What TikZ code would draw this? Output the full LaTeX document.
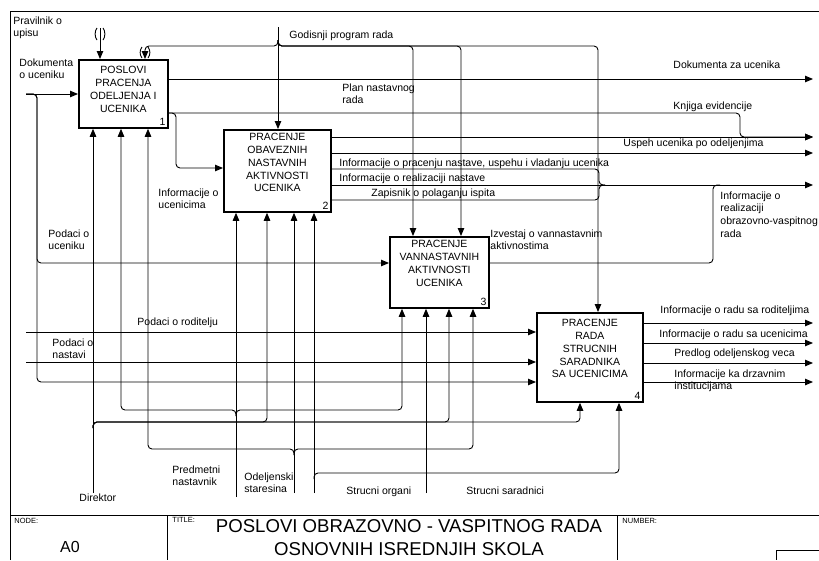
\documentclass[tikz,border=0pt]{standalone}
\usepackage{fontspec}
\setmainfont{Liberation Sans}
\usetikzlibrary{arrows.meta,positioning}
\newcommand{\lblfont}{\fontsize{10.5}{12.8}\selectfont}
\newcommand{\tinyfont}{\fontsize{7.5}{8.5}\selectfont}
\tikzset{
  box/.style={draw, line width=1.8pt, anchor=north west, inner sep=0pt},
  boxtext/.style={inner sep=0pt, align=center, font=\lblfont},
  lbl/.style={anchor=north west, inner sep=0pt, align=left, font=\lblfont},
  num/.style={anchor=south east, inner sep=3pt, font=\lblfont},
  rc/.style={rounded corners=4pt},
}
\begin{document}
\begin{tikzpicture}[x=1pt, y=-1pt, line width=0.9pt, >={Triangle[length=8pt,width=6.5pt]}]
  \useasboundingbox (0,0) rectangle (819,560);
  % frame and title block
  \draw (10,560) -- (10,11) -- (819,11);
  \draw (10,515) -- (819,515);
  \draw (167,515) -- (167,560);
  \draw (617,515) -- (617,560);
  \draw (819,550) -- (776,550) -- (776,560);
  \node[anchor=north west, inner sep=0pt, font=\tinyfont] (nodelbl) at (14,518) {NODE:};
  \node[anchor=north west, inner sep=0pt, font=\tinyfont] (titlelbl) at (172,517) {TITLE:};
  \node[anchor=north west, inner sep=0pt, font=\tinyfont] (numlbl) at (622,518) {NUMBER:};
  \node[font=\fontsize{16}{18}\selectfont, inner sep=0pt] (nodeno) at (70,547) {A0};
  \node[align=center, inner sep=0pt, font=\fontsize{18.6}{22.5}\selectfont] (title) at (409,537.5)
    {POSLOVI OBRAZOVNO - VASPITNOG RADA\\OSNOVNIH ISREDNJIH SKOLA};

  % activities
  \node[box, minimum width=89pt, minimum height=68pt] (a1) at (78,59) {};
  \node[box, minimum width=107pt, minimum height=82pt] (a2) at (223,129) {};
  \node[box, minimum width=99pt, minimum height=71pt] (a3) at (389,236) {};
  \node[box, minimum width=106pt, minimum height=89pt] (a4) at (536,312) {};
  \node[boxtext, below=7pt of a1.north] (t1) {POSLOVI\\PRACENJA\\ODELJENJA I\\UCENIKA};
  \node[boxtext, below=4pt of a2.north] (t2) {PRACENJE\\OBAVEZNIH\\NASTAVNIH\\AKTIVNOSTI\\UCENIKA};
  \node[boxtext, below=4pt of a3.north] (t3) {PRACENJE\\VANNASTAVNIH\\AKTIVNOSTI\\UCENIKA};
  \node[boxtext, below=7pt of a4.north] (t4) {PRACENJE\\RADA\\STRUCNIH\\SARADNIKA\\SA UCENICIMA};
  \node[num] (n1) at (a1.south east) {1};
  \node[num] (n2) at (a2.south east) {2};
  \node[num] (n3) at (a3.south east) {3};
  \node[num] (n4) at (a4.south east) {4};

  % controls
  \coordinate (prav) at (100,28);
  \draw[->] (prav) -- (prav |- a1.north);
  \draw (97,28) .. controls (94.5,31) and (94.5,37) .. (97,40);
  \draw (103,28) .. controls (105.5,31) and (105.5,37) .. (103,40);
  \coordinate (god) at (278,27);
  \draw[->] (god) -- (god |- a2.north);
  \draw[->, rc] (278,40) |- (145,46) -- (145,0 |- a1.north);
  \draw (142,47) .. controls (139.5,50) and (139.5,55) .. (142,58);
  \draw (148,47) .. controls (150.5,50) and (150.5,55) .. (148,58);
  \draw[->, rc] (278,40) |- (413,46) -- (413,0 |- a3.north);
  \draw[->, rc] (278,40) |- (461,46) -- (461,0 |- a3.north);
  \draw[->, rc] (278,40) |- (598,46) -- (598,0 |- a4.north);

  % inputs
  \coordinate (dok) at (26,94);
  \draw[->] (dok) -- (dok -| a1.west);
  \draw[->, rc] (dok) -| (37,263) -- (a3.west |- 0,263);
  \draw[->, rc] (dok) -| (37,382) -- (a4.west |- 0,382);
  \coordinate (rod) at (26,332);
  \draw[->] (rod) -- (rod -| a4.west);
  \coordinate (nast) at (26,362);
  \draw[->] (nast) -- (nast -| a4.west);

  % outputs of 1
  \coordinate (dzu) at (813,79);
  \draw[->] (dzu -| a1.east) -- (dzu);
  \coordinate (knj) at (813,137);
  \draw[->, rc] (a1.east |- 0,113) -- (740,113) -- (740,137) -- (knj);
  \draw[->, rc] (a1.east |- 0,113) -| (176,168) -- (a2.west |- 0,168);

  % outputs of 2
  \draw[->] (knj -| a2.east) -- (knj);
  \coordinate (ipn) at (813,153);
  \draw[->] (ipn -| a2.east) -- (ipn);
  \coordinate (iro) at (813,185);
  \draw[->] (iro -| a2.east) -- (iro);
  \draw[rc] (a2.east |- 0,169) -| (599,185) -- (605,185);
  \draw[rc] (a2.east |- 0,200) -| (599,185) -- (605,185);

  % output of 3
  \draw[rc] (a3.east |- 0,263) -| (713,185) -- (720,185);

  % outputs of 4
  \coordinate (irr) at (813,323);
  \coordinate (iru) at (813,343);
  \coordinate (pov) at (813,363);
  \coordinate (idi) at (813,382);
  \draw[->] (irr -| a4.east) -- (irr);
  \draw[->] (iru -| a4.east) -- (iru);
  \draw[->] (pov -| a4.east) -- (pov);
  \draw[->] (idi -| a4.east) -- (idi);

  % mechanisms
  \coordinate (dir) at (93,493);
  \draw[->] (dir) -- (dir |- a1.south);
  \draw[->, rc] (93,428) |- (267,422) -- (267,0 |- a2.south);
  \draw[->, rc] (93,428) |- (449,422) -- (449,0 |- a3.south);
  \draw[->, rc] (93,428) |- (580,422) -- (580,0 |- a4.south);
  \coordinate (pred) at (236,497);
  \draw[->] (pred) -- (pred |- a2.south);
  \draw[->, rc] (236,416) |- (121,410) -- (121,0 |- a1.south);
  \draw[->, rc] (236,416) |- (402,410) -- (402,0 |- a3.south);
  \coordinate (odel) at (294,493);
  \draw[->] (odel) -- (odel |- a2.south);
  \draw[->, rc] (294,455) |- (148,449) -- (148,0 |- a1.south);
  \draw[->, rc] (294,455) |- (473,449) -- (473,0 |- a3.south);
  \coordinate (sorg) at (314,493);
  \draw[->] (sorg) -- (sorg |- a2.south);
  \draw[->, rc] (314,479) |- (619,473) -- (619,0 |- a4.south);
  \coordinate (ssar) at (426,493);
  \draw[->] (ssar) -- (ssar |- a3.south);

  % labels
  \node[lbl] (l-prav) at (13,16) {Pravilnik o\\upisu};
  \node[lbl] (l-dok) at (19,58) {Dokumenta\\o uceniku};
  \node[lbl] (l-god) at (289,30) {Godisnji program rada};
  \node[lbl] (l-dzu) at (673,60) {Dokumenta za ucenika};
  \node[lbl] (l-plan) at (342,83) {Plan nastavnog\\rada};
  \node[lbl] (l-knj) at (673,101) {Knjiga evidencije};
  \node[lbl] (l-usp) at (623,138) {Uspeh ucenika po odeljenjima};
  \node[lbl] (l-ipn) at (339,158) {Informacije o pracenju nastave, uspehu i vladanju ucenika};
  \node[lbl] (l-irn) at (339,173) {Informacije o realizaciji nastave};
  \node[lbl] (l-zap) at (371,188) {Zapisnik o polaganju ispita};
  \node[lbl] (l-iou) at (158,188) {Informacije o\\ucenicima};
  \node[lbl] (l-izv) at (490,229) {Izvestaj o vannastavnim\\aktivnostima};
  \node[lbl] (l-iro) at (720,191) {Informacije o\\realizaciji\\obrazovno-vaspitnog\\rada};
  \node[lbl] (l-pou) at (48,229) {Podaci o\\uceniku};
  \node[lbl] (l-rod) at (137,317) {Podaci o roditelju};
  \node[lbl] (l-nast) at (52,338) {Podaci o\\nastavi};
  \node[lbl] (l-irr) at (660,305) {Informacije o radu sa roditeljima};
  \node[lbl] (l-iru) at (659,329) {Informacije o radu sa ucenicima};
  \node[lbl] (l-pov) at (674,348) {Predlog odeljenskog veca};
  \node[lbl] (l-idi) at (674,369) {Informacije ka drzavnim\\institucijama};
  \node[lbl] (l-pred) at (172,465) {Predmetni\\nastavnik};
  \node[lbl] (l-odel) at (244,472) {Odeljenski\\staresina};
  \node[lbl] (l-dir) at (79,493) {Direktor};
  \node[lbl] (l-sorg) at (346,486) {Strucni organi};
  \node[lbl] (l-ssar) at (466,486) {Strucni saradnici};
\end{tikzpicture}
\end{document}
